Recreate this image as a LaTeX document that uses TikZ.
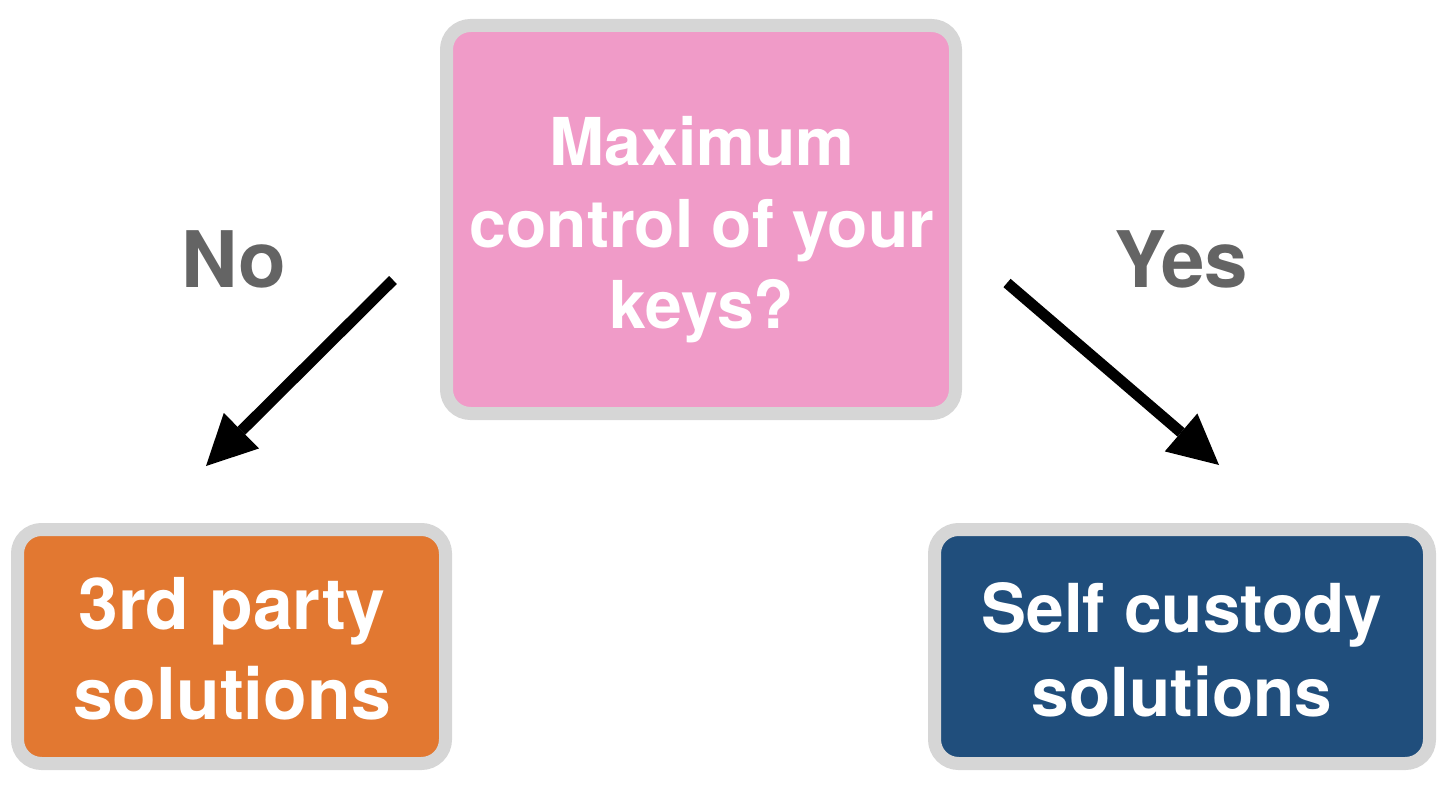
\documentclass[tikz,border=0pt]{standalone}
\usepackage{fontspec}
\setmainfont{TeX Gyre Heros}
\usetikzlibrary{arrows.meta}
\definecolor{boxpink}{RGB}{240,155,200}
\definecolor{boxorange}{RGB}{226,120,49}
\definecolor{boxblue}{RGB}{32,78,124}
\definecolor{boxrim}{RGB}{214,214,214}
\definecolor{labelgray}{RGB}{100,100,100}
\tikzset{
  panel/.style={draw=boxrim, line width=13pt, rounded corners=24pt, rectangle, inner sep=0pt},
  paneltext/.style={text=white, align=center, inner sep=0pt, font=\bfseries},
  answer/.style={text=labelgray, inner sep=0pt, font=\bfseries\fontsize{78}{90}\selectfont, anchor=base},
  bigarrow/.style={line width=11pt, -{Triangle[length=50pt,width=50pt,line width=0pt]}}
}
\begin{document}
\begin{tikzpicture}[x=1pt,y=-1pt]
\useasboundingbox (0,0) rectangle (1452,792);
\node[panel, fill=boxpink, minimum width=509pt, minimum height=388pt] (question) at (701,219.5) {};
\node[panel, fill=boxorange, minimum width=428pt, minimum height=234pt] (third) at (231.5,646.5) {};
\node[panel, fill=boxblue, minimum width=495pt, minimum height=234pt] (self) at (1182,646.5) {};
\node[paneltext, font=\bfseries\fontsize{66}{81.5}\selectfont] (qtext) at (702,230) {Maximum\\control of your\\keys?};
\node[paneltext, font=\bfseries\fontsize{71.5}{90}\selectfont] (ttext) at (232,649) {3rd party\\solutions};
\node[paneltext, font=\bfseries\fontsize{67.5}{83.5}\selectfont] (stext) at (1182,650) {Self custody\\solutions};
\node[answer] (no) at (233.5,287) {No};
\node[answer] (yes) at (1181,287) {Yes};
\coordinate (noStart) at (393,280);
\coordinate (noEnd) at (206,466);
\coordinate (yesStart) at (1007,283);
\coordinate (yesEnd) at (1219,465);
\draw[bigarrow] (noStart) -- (noEnd);
\draw[bigarrow] (yesStart) -- (yesEnd);
\end{tikzpicture}
\end{document}
